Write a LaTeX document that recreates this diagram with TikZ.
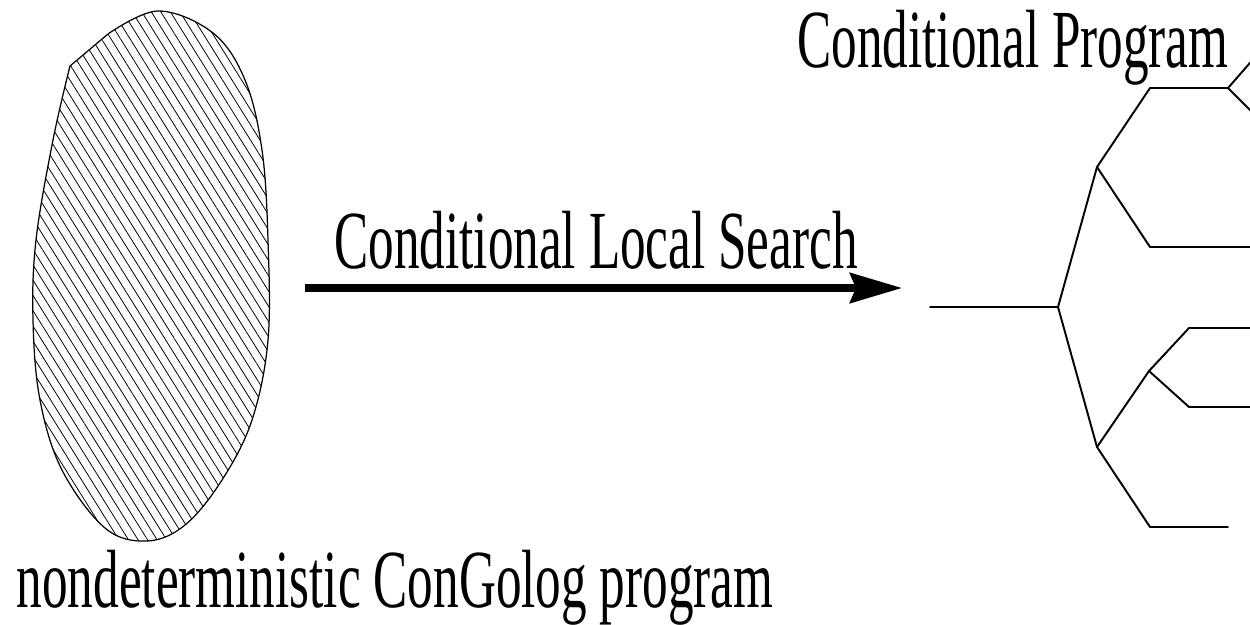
\documentclass[tikz,border=0pt]{standalone}
\usepackage{fontspec}
\setmainfont{Liberation Serif}
\newcommand{\narrowtext}[1]{\scalebox{0.62}[1]{#1}}
\usetikzlibrary{arrows.meta,patterns.meta}
\begin{document}
\begin{tikzpicture}[x=0.2mm, y=-0.2mm, every node/.style={inner sep=0pt, font=\rmfamily\fontsize{47}{50}\selectfont}]
\tikzset{
  caption/.style={anchor=base},
  blob/.style={line width=0.7pt, pattern={Lines[angle=-58, distance=4.6pt, line width=0.45pt]}},
  branch/.style={line width=1.1pt, line cap=round, line join=round},
  transform/.style={line width=4pt, -{Stealth[length=10.4mm, width=6mm, inset=1.2mm]}}
}
\useasboundingbox (0,0) rectangle (1250,624);
\clip (0,0) rectangle (1250,624);

% source program
\draw[blob] (70,66) -- (108,34) plot[smooth, tension=0.6] coordinates {(108,34) (158,11) (213,33) (245,80) (262,150) (268,240) (268,340) (252,420) (222,480) (185,525) (147,541) (105,528) (62,470) (40,400) (33,320) (36,240) (53,140) (70,66)} -- cycle;
\node[caption] (source) at (395,607) {\narrowtext{nondeterministic ConGolog program}};

% search step
\coordinate (arrowStart) at (305,288);
\coordinate (arrowEnd) at (902,288);
\draw[transform] (arrowStart) -- (arrowEnd);
\node[caption] (search) at (596,268) {\narrowtext{Conditional Local Search}};

% resulting tree
\node[caption] (result) at (1013,67) {\narrowtext{Conditional Program}};
\coordinate (root) at (930,307);
\coordinate (split) at (1058,307);
\coordinate (upper) at (1097,167);
\coordinate (lower) at (1097,447);
\coordinate (upperA) at (1150,88);
\coordinate (upperAEnd) at (1228,88);
\coordinate (upperB) at (1150,247);
\coordinate (upperBEnd) at (1270,247);
\coordinate (lowerA) at (1149,371);
\coordinate (lowerB) at (1150,527);
\coordinate (lowerBEnd) at (1228,527);
\coordinate (lowerAA) at (1189,328);
\coordinate (lowerAAEnd) at (1270,328);
\coordinate (lowerAB) at (1189,407);
\coordinate (lowerABEnd) at (1270,407);
\coordinate (upperAUp) at (1270,40);
\coordinate (upperADown) at (1270,130);

\draw[branch] (root) -- (split);
\draw[branch] (split) -- (upper);
\draw[branch] (split) -- (lower);
\draw[branch] (upper) -- (upperA) -- (upperAEnd);
\draw[branch] (upper) -- (upperB) -- (upperBEnd);
\draw[branch] (upperAEnd) -- (upperAUp);
\draw[branch] (upperAEnd) -- (upperADown);
\draw[branch] (lower) -- (lowerA);
\draw[branch] (lower) -- (lowerB) -- (lowerBEnd);
\draw[branch] (lowerA) -- (lowerAA) -- (lowerAAEnd);
\draw[branch] (lowerA) -- (lowerAB) -- (lowerABEnd);
\end{tikzpicture}
\end{document}
